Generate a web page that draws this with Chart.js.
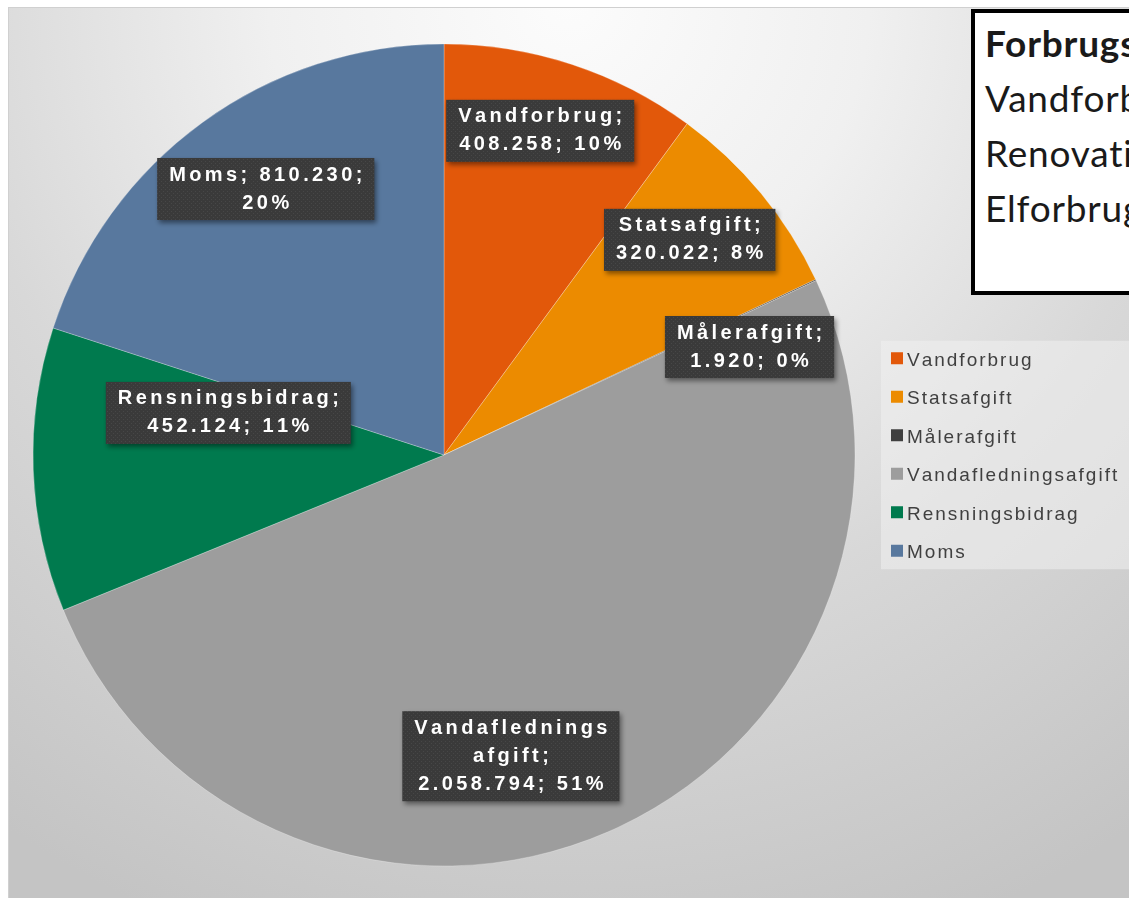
<!DOCTYPE html>
<html><head><meta charset="utf-8">
<script src="https://cdn.jsdelivr.net/npm/chart.js@4.4.1/dist/chart.umd.min.js"></script>
<style>
html,body{margin:0;padding:0;width:1129px;height:898px;overflow:hidden;background:#fff;}
#frame{position:absolute;left:8px;top:7px;width:1121px;height:891px;border-top:1px solid #d0d0d0;border-left:1px solid #d0d0d0;box-sizing:border-box;
background:radial-gradient(circle at 560px -7px,#fcfcfc 0px,#f0f0f0 300px,#d8d8d8 620px,#c4c4c4 1000px);}
#c{position:absolute;left:0;top:0;}
#note{position:absolute;left:971px;top:9px;width:420px;height:286px;box-sizing:border-box;border:4px solid #000;background:#fff;
font-family:Lato,'Open Sans',sans-serif;font-size:37px;letter-spacing:0.8px;color:#1a1a1a;padding:2px 0 0 10px;white-space:nowrap;overflow:hidden;}
#note div{line-height:55px;height:55px;}
</style></head>
<body>
<div id="frame"></div>
<canvas id="c" width="1129" height="898"></canvas>
<div id="note"><div style="font-weight:bold">Forbrugsafgifter</div><div>Vandforbrug</div><div>Renovation</div><div>Elforbrug</div></div>
<script>
const categories = ['Vandforbrug','Statsafgift','Målerafgift','Vandafledningsafgift','Rensningsbidrag','Moms'];
const values = [408258, 320022, 1920, 2058794, 452124, 810230];
const colors = ['#E2580A','#EC8B00','#404040','#9D9D9D','#007A4E','#58789E'];
const labelLines = [
  ['Vandforbrug;','408.258; 10%'],
  ['Statsafgift;','320.022; 8%'],
  ['Målerafgift;','1.920; 0%'],
  ['Vandaflednings','afgift;','2.058.794; 51%'],
  ['Rensningsbidrag;','452.124; 11%'],
  ['Moms; 810.230;','20%']
];
// label anchor: fraction of radius along slice mid-angle, plus nudge
const labelPlace = [
  {f:0.83, dx:-10, dy:0},
  {f:0.80, dx:-8, dy:-6},
  {f:0.80, dx:8, dy:32},
  {f:0.80, dx:-65, dy:0},
  {f:0.53, dx:2, dy:-50},
  {f:0.80, dx:15, dy:0}
];

function spacedWidth(ctx, s, ls){
  let w = 0;
  for (const ch of s) w += ctx.measureText(ch).width;
  return w + ls * (Math.max(0, [...s].length - 1));
}
function drawSpaced(ctx, s, x, y, ls){
  for (const ch of s){ ctx.fillText(ch, x, y); x += ctx.measureText(ch).width + ls; }
}

let pattern = null;
function getPattern(ctx){
  if (pattern) return pattern;
  const p = document.createElement('canvas'); p.width = 4; p.height = 4;
  const pc = p.getContext('2d');
  pc.fillStyle = '#3a3a3a'; pc.fillRect(0,0,4,4);
  pc.fillStyle = '#474747'; pc.fillRect(1,1,1,1); pc.fillRect(3,3,1,1);
  pattern = ctx.createPattern(p, 'repeat');
  return pattern;
}

const boxLabels = {
  id: 'boxLabels',
  afterDatasetsDraw(chart){
    const ctx = chart.ctx;
    const meta = chart.getDatasetMeta(0);
    const ls = 3.4, lh = 28;
    ctx.save();
    ctx.font = 'bold 20px "Liberation Sans", Arial, sans-serif';
    ctx.textBaseline = 'middle';
    meta.data.forEach((arc, i) => {
      const p = labelPlace[i];
      const mid = (arc.startAngle + arc.endAngle) / 2;
      const cx = arc.x + Math.cos(mid) * arc.outerRadius * p.f + p.dx;
      const cy = arc.y + Math.sin(mid) * arc.outerRadius * p.f + p.dy;
      const lines = labelLines[i];
      const widths = lines.map(s => spacedWidth(ctx, s, ls));
      const bw = Math.max(...widths) + 24;
      const bh = lines.length * lh + 6;
      const bx = cx - bw/2, by = cy - bh/2;
      ctx.save();
      ctx.shadowColor = 'rgba(0,0,0,0.45)';
      ctx.shadowBlur = 5; ctx.shadowOffsetX = 2; ctx.shadowOffsetY = 3;
      ctx.fillStyle = getPattern(ctx);
      ctx.fillRect(bx, by, bw, bh);
      ctx.restore();
      ctx.fillStyle = '#ffffff';
      lines.forEach((s, k) => {
        drawSpaced(ctx, s, cx - widths[k]/2, by + 17 + k*lh, ls);
      });
    });
    ctx.restore();
  }
};

const sideLegend = {
  id: 'sideLegend',
  afterDraw(chart){
    const ctx = chart.ctx;
    const ca = chart.chartArea;
    const ds = chart.data.datasets[0];
    const rowH = 38.5;
    const n = chart.data.labels.length;
    const cy = (ca.top + ca.bottom) / 2;
    const x0 = ca.right + 26;
    const first = cy - rowH * (n - 1) / 2;
    ctx.save();
    ctx.fillStyle = 'rgba(240,240,240,0.55)';
    ctx.fillRect(x0, first - 18, 248, rowH * (n - 1) + 36);
    ctx.font = '19px "Liberation Sans", Arial, sans-serif';
    ctx.textBaseline = 'alphabetic';
    chart.data.labels.forEach((lab, i) => {
      const y = first + i * rowH;
      ctx.fillStyle = ds.backgroundColor[i];
      ctx.fillRect(x0 + 10, y - 6.5, 12, 12);
      ctx.fillStyle = '#404040';
      drawSpaced(ctx, lab, x0 + 26, y + 7, 2);
    });
    ctx.restore();
  }
};

new Chart(document.getElementById('c'), {
  type: 'pie',
  data: {
    labels: categories,
    datasets: [{
      data: values,
      backgroundColor: colors,
      borderColor: 'rgba(255,255,255,0.25)',
      borderWidth: 1,
      hoverOffset: 0
    }]
  },
  options: {
    responsive: false,
    animation: false,
    radius: 411,
    layout: { padding: { left: 33, right: 274, top: 44, bottom: 32 } },
    plugins: { legend: { display: false }, tooltip: { enabled: false } }
  },
  plugins: [boxLabels, sideLegend]
});
</script>
</body></html>
